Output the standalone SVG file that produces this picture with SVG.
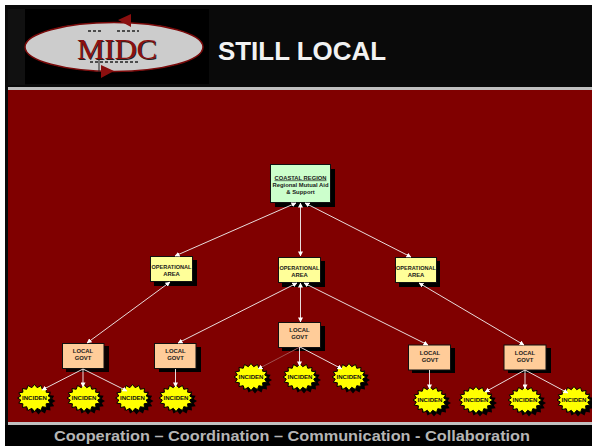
<svg xmlns="http://www.w3.org/2000/svg" xmlns:xlink="http://www.w3.org/1999/xlink" width="592" height="446" viewBox="0 0 592 446">
<style>
text{font-family:"Liberation Sans",Arial,sans-serif;font-weight:bold;text-anchor:middle;fill:#1a1a1a}
.box{stroke:#111;stroke-width:1}
.sh{fill:#000}
.op{fill:#ffff99}.lg{fill:#ffcc99}.top{fill:#ccffcc}
.t{font-size:5.9px}
.i{font-size:5.6px;fill:#111}
.c line{stroke:#e8dcdc;stroke-width:1;marker-start:url(#a);marker-end:url(#a)}
.c .e{marker-start:none}
</style>
<defs>
<marker id="a" viewBox="0 0 6 6" refX="5.5" refY="3" markerWidth="5" markerHeight="5" markerUnits="userSpaceOnUse" orient="auto-start-reverse"><path d="M0 0L6 3L0 6Z" fill="#fff"/></marker>
<polygon id="star" points="17,0 13.7,2 15.7,5.2 11.6,5.8 12,9.5 7.8,8.7 6.5,12.5 2.7,10.3 0,13.5 -2.7,10.3 -6.5,12.5 -7.8,8.7 -12,9.5 -11.6,5.8 -15.7,5.2 -13.7,2 -17,0 -13.7,-2 -15.7,-5.2 -11.6,-5.8 -12,-9.5 -7.8,-8.7 -6.5,-12.5 -2.7,-10.3 0,-13.5 2.7,-10.3 6.5,-12.5 7.8,-8.7 12,-9.5 11.6,-5.8 15.7,-5.2 13.7,-2"/>
<g id="inc"><use xlink:href="#star" href="#star" x="4" y="3" fill="#000"/><use xlink:href="#star" href="#star" fill="#ffff00" stroke="#000" stroke-width="1"/><text class="i" y="2" textLength="25" lengthAdjust="spacingAndGlyphs">INCIDEN</text></g>
</defs>
<rect width="592" height="446" fill="#fff"/>
<rect x="5" y="5" width="587" height="441" fill="#0a0a0a"/>
<rect x="8" y="9" width="17" height="76" fill="#111"/>
<rect x="8" y="87" width="584" height="3" fill="#c0c0c0"/>
<rect x="8" y="90" width="584" height="332" fill="#800000"/>
<rect x="8" y="422" width="584" height="3" fill="#c0c0c0"/>
<rect x="5" y="425" width="587" height="21" fill="#000"/>
<g id="logo">
<rect x="25" y="9" width="184" height="75" fill="#000"/>
<ellipse cx="114" cy="47" rx="89" ry="24.5" fill="#cccccc" stroke="#7a0a0a" stroke-width="1.5"/>
<path d="M118 20L131 14L131 27Z M114 71L101 65L101 78Z" fill="#8b0f0f"/>
<path d="M88 31h14M117 31h22M90 62h50" stroke="#222" stroke-width="1.5" stroke-dasharray="3 2" fill="none"/>
<path d="M99 60V72" stroke="#222" stroke-width="1"/>
<text x="118" y="60" style="font-family:'Liberation Serif',serif;font-size:30px;font-weight:normal;fill:#222" textLength="80" lengthAdjust="spacingAndGlyphs">MIDC</text>
<text x="117" y="59" style="font-family:'Liberation Serif',serif;font-size:30px;font-weight:normal;fill:#8b1010" textLength="80" lengthAdjust="spacingAndGlyphs">MIDC</text>
</g>
<text id="title" x="302" y="60" style="font-size:25px;fill:#f2f2f2" textLength="168" lengthAdjust="spacingAndGlyphs">STILL LOCAL</text>
<text id="footer" x="292" y="441" style="font-size:15.5px;fill:#b5b5b5" textLength="476" lengthAdjust="spacingAndGlyphs">Cooperation – Coordination – Communication - Collaboration</text>
<g id="region"><rect class="sh" x="275" y="169" width="60" height="38"/><rect class="box top" x="270.5" y="164.5" width="60" height="38"/>
<text x="300.5" y="179.5" class="t" style="text-decoration:underline" textLength="52" lengthAdjust="spacingAndGlyphs">COASTAL REGION</text><text x="300.5" y="186.5" class="t" textLength="56" lengthAdjust="spacingAndGlyphs">Regional Mutual Aid</text><text x="300.5" y="193.5" class="t">&amp; Support</text></g>
<g id="op1"><rect class="sh" x="154" y="260" width="43" height="26"/><rect class="box op" x="150.5" y="256.5" width="42" height="25"/><text x="171.5" y="269" class="t" textLength="40" lengthAdjust="spacingAndGlyphs">OPERATIONAL</text><text x="171.5" y="276" class="t">AREA</text></g>
<g id="op2"><rect class="sh" x="282" y="261" width="43" height="26"/><rect class="box op" x="278.5" y="257.5" width="42" height="25"/><text x="299.5" y="270" class="t" textLength="40" lengthAdjust="spacingAndGlyphs">OPERATIONAL</text><text x="299.5" y="277" class="t">AREA</text></g>
<g id="op3"><rect class="sh" x="399" y="261" width="41" height="26"/><rect class="box op" x="395.5" y="257.5" width="41" height="25"/><text x="416" y="270" class="t" textLength="40" lengthAdjust="spacingAndGlyphs">OPERATIONAL</text><text x="416" y="277" class="t">AREA</text></g>
<g id="lg1"><rect class="sh" x="66" y="346" width="43" height="26" fill-opacity=".9"/><rect class="box lg" x="62.5" y="343.5" width="41.5" height="25"/><text x="83" y="353" class="t">LOCAL</text><text x="83" y="360" class="t">GOVT</text></g>
<g id="lg2"><rect class="sh" x="159" y="347" width="42" height="25"/><rect class="box lg" x="154.5" y="343.5" width="41.5" height="25"/><text x="175.5" y="353" class="t">LOCAL</text><text x="175.5" y="360" class="t">GOVT</text></g>
<g id="lg3"><rect class="sh" x="282" y="326" width="43" height="25"/><rect class="box lg" x="278.5" y="322.5" width="42" height="25"/><text x="299.5" y="332" class="t">LOCAL</text><text x="299.5" y="339" class="t">GOVT</text></g>
<g id="lg4"><rect class="sh" x="412" y="348" width="43" height="25"/><rect class="box lg" x="408.5" y="345" width="42" height="25"/><text x="430" y="355" class="t">LOCAL</text><text x="430" y="361.5" class="t">GOVT</text></g>
<g id="lg5"><rect class="sh" x="508" y="348" width="43" height="25"/><rect class="box lg" x="504" y="345" width="42" height="25"/><text x="525" y="355" class="t">LOCAL</text><text x="525" y="361.5" class="t">GOVT</text></g>
<use id="i1" xlink:href="#inc" href="#inc" x="34.5" y="398"/>
<use id="i2" xlink:href="#inc" href="#inc" x="84" y="398"/>
<use id="i3" xlink:href="#inc" href="#inc" x="132.5" y="398"/>
<use id="i4" xlink:href="#inc" href="#inc" x="176" y="398"/>
<use id="i5" xlink:href="#inc" href="#inc" x="251" y="377"/>
<use id="i6" xlink:href="#inc" href="#inc" x="300" y="377"/>
<use id="i7" xlink:href="#inc" href="#inc" x="349" y="377"/>
<use id="i8" xlink:href="#inc" href="#inc" x="430" y="400"/>
<use id="i9" xlink:href="#inc" href="#inc" x="476" y="400"/>
<use id="i10" xlink:href="#inc" href="#inc" x="525" y="400"/>
<use id="i11" xlink:href="#inc" href="#inc" x="574" y="400"/>
<g id="connectors" class="c">
<line x1="296" y1="203" x2="175" y2="256"/>
<line x1="300.5" y1="203" x2="300.5" y2="256"/>
<line x1="305" y1="203" x2="411" y2="257"/>
<line x1="300.5" y1="283" x2="300.5" y2="322"/>
<line x1="297" y1="283" x2="178" y2="343"/>
<line x1="304" y1="283" x2="428" y2="345"/>
<line x1="170" y1="282" x2="87" y2="343"/>
<line x1="419" y1="283" x2="524" y2="345"/>
<line class="e" x1="83" y1="369" x2="42" y2="390"/>
<line class="e" x1="83" y1="369" x2="83" y2="387"/>
<line class="e" x1="83" y1="369" x2="127" y2="391"/>
<line class="e" x1="175.5" y1="369" x2="175.5" y2="387"/>
<line class="e" x1="300" y1="347" x2="258" y2="369" style="stroke:#a05050"/>
<line class="e" x1="299.5" y1="347" x2="299.5" y2="366"/>
<line class="e" x1="300" y1="347" x2="342" y2="369"/>
<line class="e" x1="429.5" y1="370" x2="429.5" y2="389"/>
<line class="e" x1="525" y1="370" x2="485" y2="392"/>
<line class="e" x1="525" y1="370" x2="525" y2="389"/>
<line class="e" x1="525" y1="370" x2="568" y2="393"/>
</g>
</svg>
